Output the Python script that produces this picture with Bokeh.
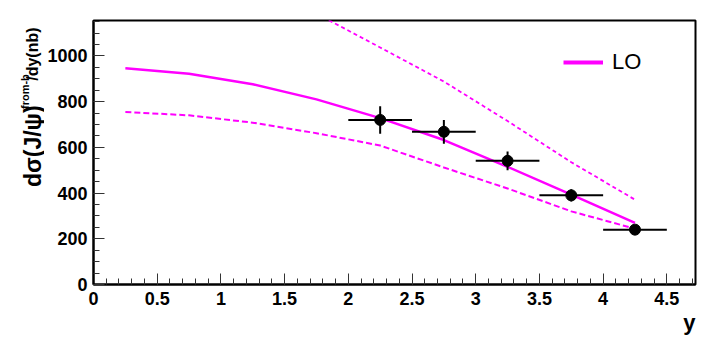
import numpy as np
from math import pi
from bokeh.plotting import figure
from bokeh.layouts import row
from bokeh.models import (Range1d, FixedTicker, ColumnDataSource, Label, Title,
                          Legend, LegendItem)
from bokeh.embed import file_html
from bokeh.resources import INLINE

# ---------------- data ----------------
# LO theory curve (central, lower and upper band)
x_theory = [0.25, 0.75, 1.25, 1.75, 2.25, 2.75, 3.25, 3.75, 4.25]
lo_central = [946, 922, 876, 810, 728, 632, 515, 393, 270]
lo_lower = [755, 740, 708, 662, 608, 512, 420, 320, 244]
x_upper = [1.75, 2.25, 2.75, 3.25, 3.75, 4.25]
lo_upper = [1185, 1037, 888, 715, 535, 371]

# measured points
y_bins = [2.25, 2.75, 3.25, 3.75, 4.25]
y_halfwidth = [0.25, 0.25, 0.25, 0.25, 0.25]
xsec = [720, 668, 541, 390, 240]
xsec_err = [60, 52, 41, 27, 12]

x_ticks = [0, 0.5, 1, 1.5, 2, 2.5, 3, 3.5, 4, 4.5]
x_tick_labels = ["0", "0.5", "1", "1.5", "2", "2.5", "3", "3.5", "4", "4.5"]
y_ticks = [0, 200, 400, 600, 800, 1000]
y_tick_labels = ["0", "200", "400", "600", "800", "1000"]

FONT = "Liberation Sans"
H = 338
LW = 44  # width of the y-title strip

# ---------------- y title strip ----------------
yt = figure(width=LW, height=H, x_range=Range1d(0, LW), y_range=Range1d(H, 0),
            output_backend="svg", toolbar_location=None,
            x_axis_location=None, y_axis_location=None,
            min_border_left=0, min_border_right=0, min_border_top=0, min_border_bottom=0)
yt.grid.visible = False
yt.outline_line_color = None
yt.background_fill_color = "white"
yt.border_fill_color = "white"
yt.title.visible = False


def ylab(x, y, text, size):
    yt.add_layout(Label(x=x, y=y, text=text, angle=pi / 2, text_align="center",
                        text_baseline="middle", text_font=FONT, text_font_style="bold",
                        text_font_size=size, text_color="black"))


ylab(32, 161, "dσ(J/ψ)", "23px")
ylab(24, 91, "from-b", "11px")
ylab(32, 43, "/dy(nb)", "16px")

# ---------------- main figure ----------------
p = figure(width=703 - LW, height=H, x_range=Range1d(0, 4.725), y_range=Range1d(0, 1155),
           output_backend="svg", toolbar_location=None,
           min_border_left=92 - LW, min_border_right=8, min_border_top=20, min_border_bottom=H - 284)
p.grid.visible = False
p.outline_line_color = "black"
p.outline_line_width = 2
p.background_fill_color = "white"
p.border_fill_color = "white"

xa = p.xaxis[0]
ya = p.yaxis[0]
xa.ticker = FixedTicker(ticks=x_ticks, minor_ticks=[round(i * 0.1, 1) for i in range(48)])
xa.major_label_overrides = {t: l for t, l in zip(x_ticks, x_tick_labels)}
ya.ticker = FixedTicker(ticks=y_ticks, minor_ticks=list(range(0, 1200, 50)))
ya.major_label_overrides = {t: l for t, l in zip(y_ticks, y_tick_labels)}
for ax in (xa, ya):
    ax.axis_line_width = 2
    ax.axis_line_color = "black"
    ax.major_tick_in = 11
    ax.major_tick_out = 0
    ax.minor_tick_in = 6
    ax.minor_tick_out = 0
    ax.major_tick_line_color = "#333333"
    ax.minor_tick_line_color = "#333333"
    ax.major_label_text_font = FONT
    ax.major_label_text_font_style = "bold"
    ax.major_label_text_font_size = "18px"
    ax.major_label_text_color = "black"
xa.major_label_standoff = 7
ya.major_label_standoff = 6

MAG = "#ff00ff"
p.line(x_theory, lo_lower, line_color=MAG, line_width=2, line_dash="6 3")
p.line(x_upper, lo_upper, line_color=MAG, line_width=1.8, line_dash="4 3")
lo_r = p.line(x_theory, lo_central, line_color=MAG, line_width=2.5)

xb = np.array(y_bins, dtype=float)
hw = np.array(y_halfwidth, dtype=float)
ys = np.array(xsec, dtype=float)
er = np.array(xsec_err, dtype=float)
src = ColumnDataSource(dict(x=xb, y=ys, xl=xb - hw, xr=xb + hw, yl=ys - er, yh=ys + er))
p.segment(x0="xl", y0="y", x1="xr", y1="y", source=src, line_color="black", line_width=2)
p.segment(x0="x", y0="yl", x1="x", y1="yh", source=src, line_color="black", line_width=2)
p.scatter(x="x", y="y", source=src, size=11, fill_color="black", line_color="black")

# legend (a one-point line draws nothing on the chart, only its legend glyph)
leg_r = p.line(x_theory[:1], lo_central[:1], line_color=MAG, line_width=4)
legend = Legend(items=[LegendItem(label="LO", renderers=[leg_r])], location=(470, 209),
                glyph_width=40, glyph_height=20, label_standoff=9, padding=0, margin=0,
                border_line_alpha=0, background_fill_alpha=0,
                label_text_font=FONT, label_text_font_size="22px", label_text_color="black")
p.add_layout(legend)

# x axis title
p.add_layout(Title(text="y", align="right", text_font=FONT, text_font_style="bold",
                   text_font_size="22px", text_color="black", standoff=0), "below")

layout = row(yt, p)
open("out.html", "w", encoding="utf-8").write(file_html(layout, INLINE))
